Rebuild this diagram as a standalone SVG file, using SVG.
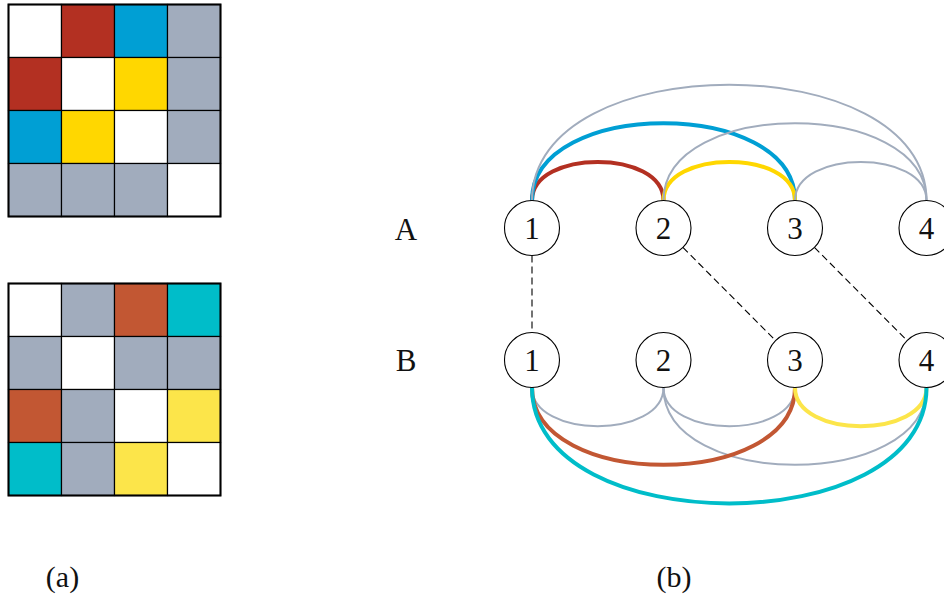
<svg xmlns="http://www.w3.org/2000/svg" width="944" height="595" viewBox="0 0 944 595">
<style>
.cell{stroke:#000;stroke-width:1.2}
.frame{fill:none;stroke:#000;stroke-width:2}
.g{fill:#A1ACBD}.w{fill:#fff}
.r{fill:#B33022}.b{fill:#009FD4}.y{fill:#FFD700}
.o{fill:#C25733}.c{fill:#00BDC9}.y2{fill:#FCE54A}
.arc{fill:none;stroke-linecap:butt}
.ag{stroke:#A1ACBD;stroke-width:2}
.ac{stroke-width:4}
.dash{stroke:#000;stroke-width:1.1;stroke-dasharray:7 4;fill:none}
.node circle{fill:#fff;stroke:#000;stroke-width:1.1}
.lbl{font-family:"Liberation Serif","DejaVu Serif",serif;font-size:31px;fill:#111}
.cap{font-size:30px}
.nl{text-anchor:middle}
</style>

<g id="matrix-a-top">
<rect class="cell w" x="8.5" y="4.5" width="53" height="53"/>
<rect class="cell r" x="61.5" y="4.5" width="53" height="53"/>
<rect class="cell b" x="114.5" y="4.5" width="53" height="53"/>
<rect class="cell g" x="167.5" y="4.5" width="53" height="53"/>
<rect class="cell r" x="8.5" y="57.5" width="53" height="53"/>
<rect class="cell w" x="61.5" y="57.5" width="53" height="53"/>
<rect class="cell y" x="114.5" y="57.5" width="53" height="53"/>
<rect class="cell g" x="167.5" y="57.5" width="53" height="53"/>
<rect class="cell b" x="8.5" y="110.5" width="53" height="53"/>
<rect class="cell y" x="61.5" y="110.5" width="53" height="53"/>
<rect class="cell w" x="114.5" y="110.5" width="53" height="53"/>
<rect class="cell g" x="167.5" y="110.5" width="53" height="53"/>
<rect class="cell g" x="8.5" y="163.5" width="53" height="53"/>
<rect class="cell g" x="61.5" y="163.5" width="53" height="53"/>
<rect class="cell g" x="114.5" y="163.5" width="53" height="53"/>
<rect class="cell w" x="167.5" y="163.5" width="53" height="53"/>
<rect class="frame" x="8.5" y="4.5" width="212" height="212"/>
</g>

<g id="matrix-a-bottom">
<rect class="cell w" x="8.5" y="283.5" width="53" height="53"/>
<rect class="cell g" x="61.5" y="283.5" width="53" height="53"/>
<rect class="cell o" x="114.5" y="283.5" width="53" height="53"/>
<rect class="cell c" x="167.5" y="283.5" width="53" height="53"/>
<rect class="cell g" x="8.5" y="336.5" width="53" height="53"/>
<rect class="cell w" x="61.5" y="336.5" width="53" height="53"/>
<rect class="cell g" x="114.5" y="336.5" width="53" height="53"/>
<rect class="cell g" x="167.5" y="336.5" width="53" height="53"/>
<rect class="cell o" x="8.5" y="389.5" width="53" height="53"/>
<rect class="cell g" x="61.5" y="389.5" width="53" height="53"/>
<rect class="cell w" x="114.5" y="389.5" width="53" height="53"/>
<rect class="cell y2" x="167.5" y="389.5" width="53" height="53"/>
<rect class="cell c" x="8.5" y="442.5" width="53" height="53"/>
<rect class="cell g" x="61.5" y="442.5" width="53" height="53"/>
<rect class="cell y2" x="114.5" y="442.5" width="53" height="53"/>
<rect class="cell w" x="167.5" y="442.5" width="53" height="53"/>
<rect class="frame" x="8.5" y="283.5" width="212" height="212"/>
</g>

<g id="connectors">
<!-- top arcs (layer A) -->
<path class="arc ac" stroke="#B33022" d="M532,200.5 C532,149 663.5,149 663.5,200.5"/>
<path class="arc ac" stroke="#009FD4" d="M532,200.5 C532,97.5 795,97.5 795,200.5"/>
<path class="arc ac" stroke="#FFD700" d="M663.5,200.5 C663.5,149 795,149 795,200.5"/>
<path class="arc ag" d="M532,200.5 C532,46 926.5,46 926.5,200.5"/>
<path class="arc ag" d="M663.5,200.5 C663.5,97.5 926.5,97.5 926.5,200.5"/>
<path class="arc ag" d="M795,200.5 C795,149 926.5,149 926.5,200.5"/>
<!-- bottom arcs (layer B) -->
<path class="arc ag" d="M532,387.5 C532,439 663.5,439 663.5,387.5"/>
<path class="arc ag" d="M663.5,387.5 C663.5,439 795,439 795,387.5"/>
<path class="arc ag" d="M663.5,387.5 C663.5,490.5 926.5,490.5 926.5,387.5"/>
<path class="arc ac" stroke="#C25733" d="M532,387.5 C532,490.5 795,490.5 795,387.5"/>
<path class="arc ac" stroke="#FCE54A" d="M795,387.5 C795,439 926.5,439 926.5,387.5"/>
<path class="arc ac" stroke="#00BDC9" d="M532,387.5 C532,542 926.5,542 926.5,387.5"/>
<!-- inter-layer dashed links -->
<path class="dash" d="M532,255.5 L532,332.5"/>
<path class="dash" d="M682.9,247.4 L775.6,340.6"/>
<path class="dash" d="M814.4,247.4 L907.1,340.6"/>
</g>

<g id="nodeA1" class="node"><circle cx="532" cy="228" r="27.5"/><text class="lbl nl" x="532" y="239">1</text></g>
<g id="nodeA2" class="node"><circle cx="663.5" cy="228" r="27.5"/><text class="lbl nl" x="663.5" y="239">2</text></g>
<g id="nodeA3" class="node"><circle cx="795" cy="228" r="27.5"/><text class="lbl nl" x="795" y="239">3</text></g>
<g id="nodeA4" class="node"><circle cx="926.5" cy="228" r="27.5"/><text class="lbl nl" x="926.5" y="239">4</text></g>
<g id="nodeB1" class="node"><circle cx="532" cy="360" r="27.5"/><text class="lbl nl" x="532" y="371">1</text></g>
<g id="nodeB2" class="node"><circle cx="663.5" cy="360" r="27.5"/><text class="lbl nl" x="663.5" y="371">2</text></g>
<g id="nodeB3" class="node"><circle cx="795" cy="360" r="27.5"/><text class="lbl nl" x="795" y="371">3</text></g>
<g id="nodeB4" class="node"><circle cx="926.5" cy="360" r="27.5"/><text class="lbl nl" x="926.5" y="371">4</text></g>

<g id="labels">
<text class="lbl nl" x="406" y="240">A</text>
<text class="lbl nl" x="406" y="371">B</text>
<text class="lbl cap nl" x="62.5" y="587">(a)</text>
<text class="lbl cap nl" x="674" y="587">(b)</text>
</g>
</svg>
